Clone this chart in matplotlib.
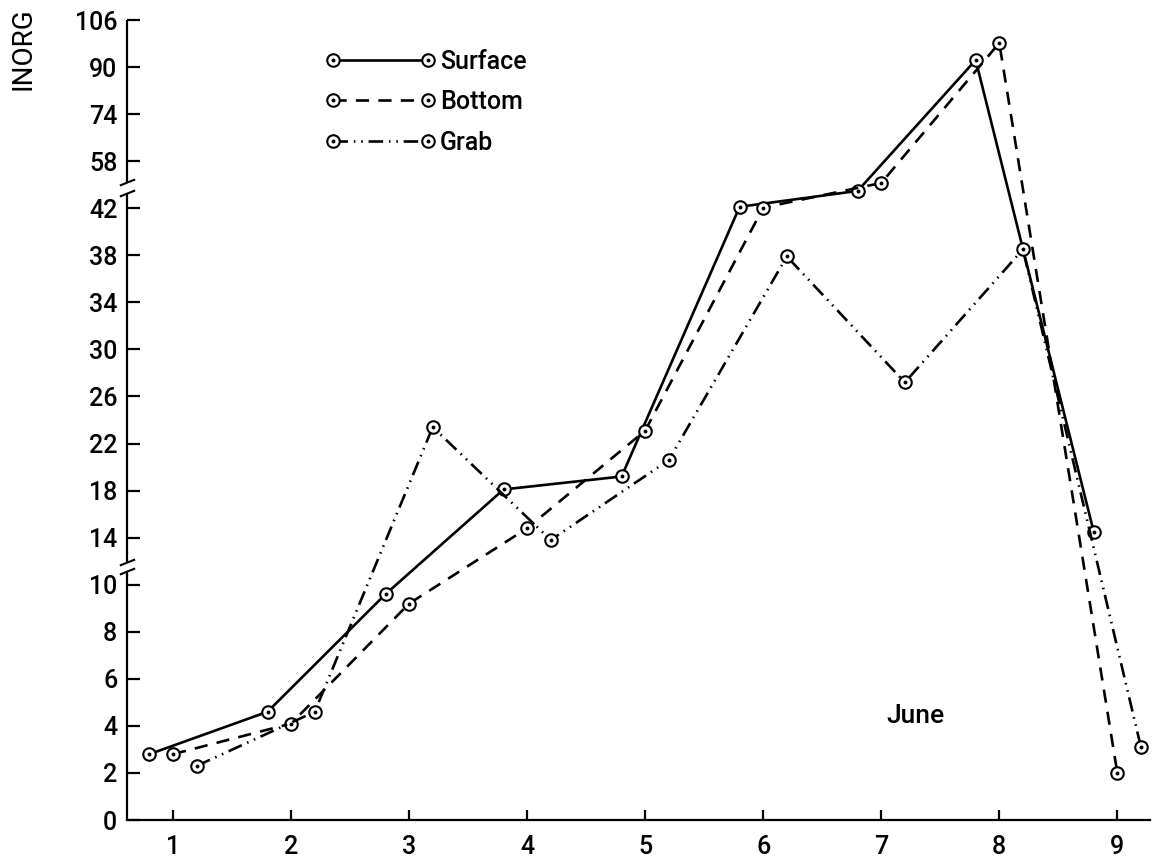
import numpy as np
import matplotlib
matplotlib.use("Agg")
import matplotlib.pyplot as plt
from matplotlib.path import Path
from matplotlib.legend_handler import HandlerTuple

# ---- data -------------------------------------------------------------
day_ticks = [1, 2, 3, 4, 5, 6, 7, 8, 9]

surface_x = [0.8, 1.8, 2.8, 3.8, 4.8, 5.8, 6.8, 7.8, 8.8]
surface_y = [2.8, 4.6, 9.6, 18.1, 19.2, 42.5, 47.9, 92.4, 14.5]

bottom_x = [1.0, 2.0, 3.0, 4.0, 5.0, 6.0, 7.0, 8.0, 9.0]
bottom_y = [2.8, 4.1, 9.2, 14.8, 23.1, 42.2, 50.6, 98.2, 2.0]

grab_x = [1.2, 2.2, 3.2, 4.2, 5.2, 6.2, 7.2, 8.2, 9.2]
grab_y = [2.3, 4.6, 23.4, 13.8, 20.6, 37.9, 27.2, 38.5, 3.1]

y_ticks = [0, 2, 4, 6, 8, 10, 14, 18, 22, 26, 30, 34, 38, 42, 58, 74, 90, 106]
y_tick_labels = [str(v) for v in y_ticks]

# broken axis: each listed segment gets its own linear stretch
seg_vals = [0, 10, 14, 42, 58, 106]
seg_pos = [0, 5, 6, 13, 14, 17]


def fwd(v):
    return np.interp(v, seg_vals, seg_pos)


def inv(p):
    return np.interp(p, seg_pos, seg_vals)


plt.rcParams['font.family'] = ['Roboto', 'DejaVu Sans']

fig = plt.figure(figsize=(11.55, 8.63), dpi=100)
ax = fig.add_axes([0.110, 0.0498, 0.886, 0.927])
ax.set_yscale('function', functions=(fwd, inv))
ax.set_ylim(0, 106)
ax.set_xlim(0.61, 9.28)

lw = 1.9
mk = dict(marker='o', ms=9, mfc='white', mec='black', mew=1.5)
dot = dict(ls='none', marker='o', ms=1.8, color='black')

l1, = ax.plot(surface_x, surface_y, color='black', lw=lw, ls='-', **mk)
d1, = ax.plot(surface_x, surface_y, **dot)
l2, = ax.plot(bottom_x, bottom_y, color='black', lw=lw, ls=(0, (5, 3.5)), **mk)
d2, = ax.plot(bottom_x, bottom_y, **dot)
l3, = ax.plot(grab_x, grab_y, color='black', lw=lw,
              ls=(0, (5.5, 2.2, 0.6, 2.2, 0.6, 2.2)), **mk)
d3, = ax.plot(grab_x, grab_y, **dot)

# axes frame
for s in ['top', 'right', 'left']:
    ax.spines[s].set_visible(False)
ax.spines['bottom'].set_linewidth(1.6)

ytr = ax.get_yaxis_transform()
for lo, hi in [(0, 11.2), (11.9, 47.2), (50.9, 106)]:
    ax.plot([0, 0], [lo, hi], color='black', lw=1.6, transform=ytr,
            clip_on=False, solid_capstyle='butt')
slash = Path([[-1, -0.4], [1, 0.4]], [Path.MOVETO, Path.LINETO])
ax.plot([0, 0, 0, 0], [11.2, 11.9, 47.2, 50.9], ls='none', marker=slash,
        ms=11, mew=1.5, color='black', transform=ytr, clip_on=False)

ax.set_yticks(y_ticks)
ax.set_yticklabels(y_tick_labels, fontweight='medium')
ax.yaxis.set_minor_locator(matplotlib.ticker.NullLocator())
ax.set_xticks(day_ticks)
ax.set_xticklabels([str(d) for d in day_ticks], fontweight='medium')
ax.tick_params(axis='y', direction='in', length=9, width=1.6, pad=7,
               labelsize=18)
ax.tick_params(axis='x', direction='in', length=7, width=1.6, pad=11,
               labelsize=18)

leg = ax.legend([(l1, d1), (l2, d2), (l3, d3)], ['Surface', 'Bottom', 'Grab'],
                handler_map={tuple: HandlerTuple(ndivide=1)},
                numpoints=2, frameon=False, loc='upper left',
                bbox_to_anchor=(0.2707, 0.957), bbox_transform=fig.transFigure,
                borderpad=0, handlelength=4.4, handletextpad=0.2,
                labelspacing=0.66, prop=dict(size=18, weight='medium'))

fig.text(915 / 1155, 1 - 716 / 863, 'June', fontsize=19, fontweight='medium',
         ha='center', va='center')
fig.text(23 / 1155, 1 - 90 / 863, 'INORG', fontsize=20,
         rotation=90, ha='center', va='bottom')

fig.savefig('out.png', dpi=100)
